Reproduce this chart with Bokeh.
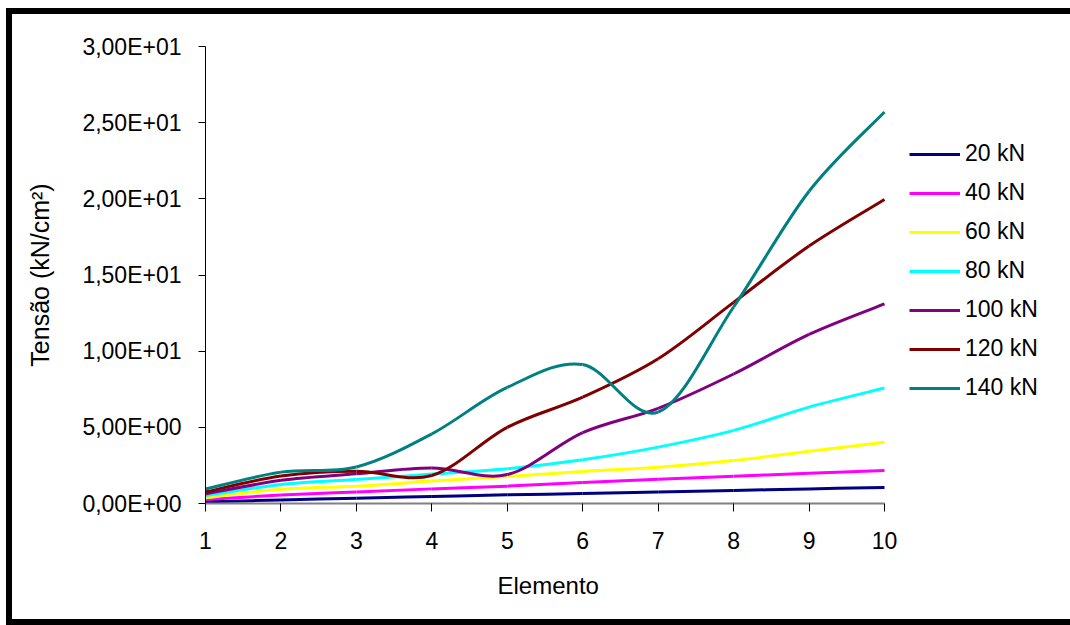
from bokeh.plotting import figure
from bokeh.models import Range1d, FixedTicker, Legend, LegendItem, Title
from bokeh.embed import file_html
from bokeh.resources import INLINE

# ---- data ----
elemento = [1, 2, 3, 4, 5, 6, 7, 8, 9, 10]
s20 = [0.12, 0.23, 0.35, 0.46, 0.57, 0.65, 0.75, 0.85, 0.96, 1.05]
s40 = [0.26, 0.55, 0.76, 0.96, 1.14, 1.38, 1.60, 1.79, 1.99, 2.17]
s60 = [0.37, 0.93, 1.14, 1.47, 1.77, 2.10, 2.38, 2.82, 3.43, 4.02]
s80 = [0.52, 1.25, 1.58, 1.93, 2.28, 2.87, 3.70, 4.80, 6.33, 7.58]
s100 = [0.63, 1.52, 1.95, 2.33, 1.90, 4.65, 6.25, 8.50, 11.10, 13.10]
s120 = [0.76, 1.80, 2.12, 1.84, 5.00, 6.98, 9.50, 13.20, 16.90, 19.95]
s140 = [0.95, 2.06, 2.40, 4.57, 7.62, 9.12, 6.00, 12.90, 20.50, 25.70]

series_names = ["20 kN", "40 kN", "60 kN", "80 kN", "100 kN", "120 kN", "140 kN"]
series_values = [s20, s40, s60, s80, s100, s120, s140]
series_colors = ["#000080", "#FF00FF", "#FFFF00", "#00FFFF", "#800080", "#800000", "#008080"]

y_ticks = [0, 5, 10, 15, 20, 25, 30]
y_tick_labels = ["0,00E+00", "5,00E+00", "1,00E+01", "1,50E+01", "2,00E+01", "2,50E+01", "3,00E+01"]
x_ticks = elemento
x_tick_labels = [str(v) for v in elemento]
x_title = "Elemento"
y_title = "Tensão (kN/cm²)"

FONT = "Liberation Sans"

# layout (pixels)
W, H = 1064, 617
ML, MT, MB = 193, 32, 128
AXIS_PX = 679                 # pixels between x=1 and x=10
frame_w = W - ML              # frame runs to the right edge of the canvas
x_end = elemento[0] + (elemento[-1] - elemento[0]) * frame_w / AXIS_PX

p = figure(
    width=W, height=H,
    output_backend="svg", toolbar_location=None,
    x_range=Range1d(elemento[0], x_end), y_range=Range1d(0, 30),
    min_border_left=ML, min_border_right=0,
    min_border_top=MT, min_border_bottom=MB,
    background_fill_color="white", border_fill_color="white",
    styles={"border-top": "6px solid black", "border-left": "6px solid black",
            "border-bottom": "6px solid black",
            "margin-left": "6px", "margin-top": "8px"},
)
p.outline_line_color = None
p.xgrid.visible = False
p.ygrid.visible = False


def smooth_segments(xs, ys):
    # Excel-style smoothed line: cubic Bezier per segment (Catmull-Rom control points)
    n = len(xs)
    x0, y0, x1, y1, cx0, cy0, cx1, cy1 = [], [], [], [], [], [], [], []
    for i in range(n - 1):
        ip = max(i - 1, 0)
        inn = min(i + 2, n - 1)
        x0.append(xs[i]); y0.append(ys[i])
        x1.append(xs[i + 1]); y1.append(ys[i + 1])
        cx0.append(xs[i] + (xs[i + 1] - xs[ip]) / 6.0)
        cy0.append(ys[i] + (ys[i + 1] - ys[ip]) / 6.0)
        cx1.append(xs[i + 1] - (xs[inn] - xs[i]) / 6.0)
        cy1.append(ys[i + 1] - (ys[inn] - ys[i]) / 6.0)
    return dict(x0=x0, y0=y0, x1=x1, y1=y1, cx0=cx0, cy0=cy0, cx1=cx1, cy1=cy1)


items = []
for name, vals, col in zip(series_names, series_values, series_colors):
    seg = smooth_segments(elemento, vals)
    r = p.bezier(source=seg, x0="x0", y0="y0", x1="x1", y1="y1",
                 cx0="cx0", cy0="cy0", cx1="cx1", cy1="cy1",
                 line_color=col, line_width=3)
    items.append(LegendItem(label=name, renderers=[r]))

legend = Legend(items=items, location=(704, 102))
legend.padding = 0
legend.margin = 0
legend.border_line_alpha = 0
legend.background_fill_alpha = 0
legend.glyph_width = 51
legend.glyph_height = 26
legend.label_height = 26
legend.spacing = 12
legend.label_standoff = 5
legend.label_text_font = FONT
legend.label_text_font_size = "23px"
legend.label_text_color = "black"
p.add_layout(legend, "center")

# x axis
xa = p.xaxis[0]
xa.bounds = (elemento[0], elemento[-1])
xa.ticker = FixedTicker(ticks=x_ticks)
xa.major_label_overrides = {t: l for t, l in zip(x_ticks, x_tick_labels)}
xa.minor_tick_line_color = None
xa.major_tick_in = 0
xa.major_tick_out = 8
xa.major_tick_line_color = "black"
xa.axis_line_color = "#808080"
xa.axis_line_width = 2
xa.major_label_text_font = FONT
xa.major_label_text_font_size = "23px"
xa.major_label_text_color = "black"
xa.major_label_standoff = 20

# x axis title, centred under the axis span (x = 1 .. 10)
p.add_layout(Title(text=x_title, align="left", offset=292, standoff=36,
                   text_font=FONT, text_font_size="24px",
                   text_font_style="normal", text_color="black"), "below")

# y axis
ya = p.yaxis[0]
ya.ticker = FixedTicker(ticks=y_ticks)
ya.major_label_overrides = {t: l for t, l in zip(y_ticks, y_tick_labels)}
ya.minor_tick_line_color = None
ya.major_tick_in = 0
ya.major_tick_out = 7
ya.major_tick_line_color = "black"
ya.axis_line_color = "black"
ya.axis_line_width = 1
ya.major_label_text_font = FONT
ya.major_label_text_font_size = "23px"
ya.major_label_text_color = "black"
ya.major_label_standoff = 17
ya.axis_label = y_title
ya.axis_label_text_font = FONT
ya.axis_label_text_font_size = "25px"
ya.axis_label_text_font_style = "normal"
ya.axis_label_text_color = "black"
ya.axis_label_standoff = 25

open("out.html", "w").write(file_html(p, INLINE))
